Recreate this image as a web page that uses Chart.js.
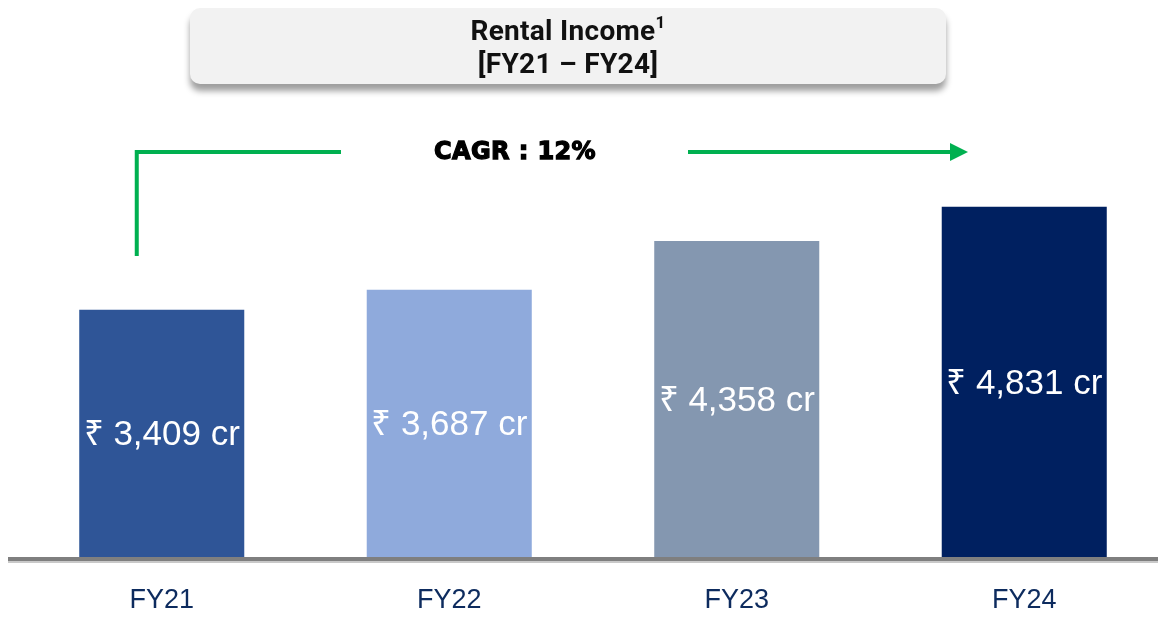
<!DOCTYPE html>
<html>
<head>
<meta charset="utf-8">
<script src="https://cdn.jsdelivr.net/npm/chart.js@4.4.1/dist/chart.umd.min.js"></script>
<style>
  html, body { margin:0; padding:0; width:1158px; height:619px; overflow:hidden; background:#fff; }
  #wrap { position:absolute; left:0; top:0; width:1170px; height:619px; }
  #titleBox {
    position:absolute; left:190px; top:8px; width:756px; height:76px;
    background:#f2f2f2; border-radius:10px;
    box-shadow: 0 7px 6px rgba(0,0,0,0.38);
    text-align:center; font-family:Roboto, "Liberation Sans", sans-serif; font-weight:700;
    font-size:28px; line-height:33px; color:#111; padding-top:6px; box-sizing:border-box; z-index:2;
    letter-spacing:0.3px;
  }
  #titleBox sup { font-size:17px; line-height:0; vertical-align:super; position:relative; top:-2px; }
  #cagr {
    position:absolute; left:515px; top:151px; transform:translate(-50%,-50%);
    font-family:"DejaVu Sans", sans-serif; font-weight:700; font-size:24px;
    color:#000; white-space:nowrap; z-index:2; letter-spacing:0.4px;
    -webkit-text-stroke:1.3px #000;
  }
</style>
</head>
<body>
<div id="wrap"><canvas id="c" width="1170" height="619"></canvas></div>
<div id="titleBox">Rental Income<sup>1</sup><br>[FY21 – FY24]</div>
<div id="cagr">CAGR : 12%</div>
<script>
const categories = ["FY21", "FY22", "FY23", "FY24"];
const rentalIncome = [3409, 3687, 4358, 4831];
const barColors = ["#2f5597", "#8faadc", "#8497b0", "#002060"];

const valueLabels = {
  id: 'valueLabels',
  afterDatasetsDraw(chart) {
    const ctx = chart.ctx;
    const meta = chart.getDatasetMeta(0);
    ctx.save();
    ctx.fillStyle = '#ffffff';
    ctx.font = '35px "Liberation Sans", Arial, sans-serif';
    ctx.textAlign = 'center';
    ctx.textBaseline = 'middle';
    meta.data.forEach((bar, i) => {
      const v = rentalIncome[i];
      const txt = '₹ ' + v.toLocaleString('en-IN') + ' cr';
      ctx.fillText(txt, bar.x, (bar.y + bar.base) / 2 + 2);
    });
    ctx.restore();
  }
};

const baseLine = {
  id: 'baseLine',
  afterDatasetsDraw(chart) {
    const ctx = chart.ctx;
    const y = chart.scales.y.getPixelForValue(0);
    ctx.save();
    ctx.fillStyle = '#7f7f7f';
    ctx.fillRect(chart.chartArea.left - 10, y, 1160, 4);
    ctx.fillStyle = '#c9c9c9';
    ctx.fillRect(chart.chartArea.left - 10, y + 4, 1160, 2);
    ctx.restore();
  }
};

const cagrArrow = {
  id: 'cagrArrow',
  afterDraw(chart) {
    const ctx = chart.ctx;
    const xs = chart.scales.x;
    const x0 = xs.getPixelForValue(0) - 25;
    const yTop = 152;
    ctx.save();
    ctx.strokeStyle = '#00b050';
    ctx.fillStyle = '#00b050';
    ctx.lineWidth = 4;
    ctx.lineCap = 'butt';
    ctx.beginPath();
    ctx.moveTo(x0, 256);
    ctx.lineTo(x0, yTop);
    ctx.lineTo(341, yTop);
    ctx.stroke();
    ctx.beginPath();
    ctx.moveTo(688, yTop);
    ctx.lineTo(953, yTop);
    ctx.stroke();
    ctx.beginPath();
    ctx.moveTo(950, yTop - 9);
    ctx.lineTo(968, yTop);
    ctx.lineTo(950, yTop + 9);
    ctx.closePath();
    ctx.fill();
    ctx.restore();
  }
};

new Chart(document.getElementById('c'), {
  type: 'bar',
  data: {
    labels: categories,
    datasets: [{
      data: rentalIncome,
      backgroundColor: barColors,
      borderWidth: 0,
      categoryPercentage: 1,
      barPercentage: 0.574
    }]
  },
  options: {
    responsive: false,
    animation: false,
    devicePixelRatio: 1,
    layout: { padding: { left: 18, right: 2, top: 122, bottom: 0 } },
    plugins: { legend: { display: false }, tooltip: { enabled: false } },
    scales: {
      x: {
        grid: { display: false, drawTicks: false },
        border: { display: false },
        ticks: {
          color: '#0d2b5e',
          font: { family: '"Liberation Sans", Arial, sans-serif', size: 27 },
          padding: 27
        },
        afterFit(scale) { scale.height = 62; }
      },
      y: {
        display: false,
        min: 0,
        max: 6000
      }
    }
  },
  plugins: [valueLabels, baseLine, cagrArrow]
});
</script>
</body>
</html>
